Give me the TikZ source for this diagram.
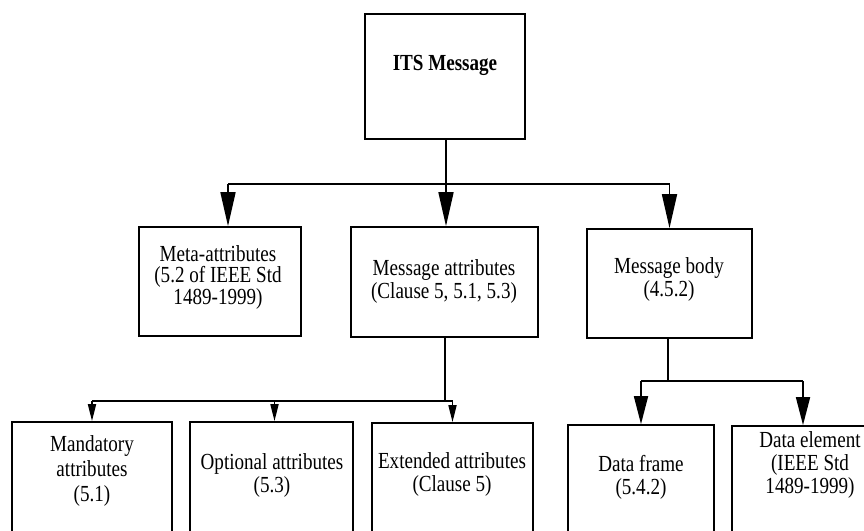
\documentclass[tikz,border=0pt]{standalone}
\usepackage{fontspec}
\setmainfont[FakeStretch=0.83]{Liberation Serif}
\usetikzlibrary{arrows.meta,calc}

\begin{document}
\begin{tikzpicture}[x=1pt,y=-1pt,
    line width=1.7pt,
    box/.style={draw,line width=1.7pt,minimum width=#1,inner sep=0pt},
    lbl/.style={align=center,font=\fontsize{23}{23}\selectfont,inner sep=0pt},
    bigtip/.style={-{Triangle[length=34pt,width=15pt]}},
    midtip/.style={-{Triangle[length=28pt,width=14pt]}},
    smalltip/.style={-{Triangle[length=17pt,width=8pt]}}]
  \useasboundingbox (0,0) rectangle (864,530);
  \clip (0,0) rectangle (864,530);

  % boxes (bottom row continues below the page edge)
  \node[box=160pt,minimum height=125pt] (its)   at (445,76.5) {};
  \node[box=162pt,minimum height=109pt] (meta)  at (220,281.5) {};
  \node[box=187pt,minimum height=110pt] (attr)  at (444.5,282) {};
  \node[box=165pt,minimum height=109pt] (body)  at (669.5,283.5) {};
  \node[box=160pt,minimum height=180pt] (mand)  at (92,512) {};
  \node[box=163pt,minimum height=180pt] (opt)   at (271.5,512) {};
  \node[box=161pt,minimum height=180pt] (ext)   at (452.5,513) {};
  \node[box=146pt,minimum height=180pt] (frame) at (641,515) {};
  \node[box=142pt,minimum height=180pt] (elem)  at (803,516) {};

  % labels
  \node[lbl,font=\fontsize{23}{23}\selectfont\bfseries] (its-t) at (445,65) {ITS Message};
  \node[lbl,font=\fontsize{23}{21.5}\selectfont] (meta-t) at (218,277) {Meta-attributes\\(5.2 of IEEE Std\\1489-1999)};
  \node[lbl] (attr-t)  at (444,281) {Message attributes\\(Clause 5, 5.1, 5.3)};
  \node[lbl] (body-t)  at (669,279) {Message body\\(4.5.2)};
  \node[lbl,font=\fontsize{23}{25}\selectfont] (mand-t) at (92,471) {Mandatory\\attributes\\(5.1)};
  \node[lbl] (opt-t)   at (272,475) {Optional attributes\\(5.3)};
  \node[lbl] (ext-t)   at (452,474) {Extended attributes\\(Clause 5)};
  \node[lbl] (frame-t) at (641,477) {Data frame\\(5.4.2)};
  \node[lbl] (elem-t)  at (810,465) {Data element\\(IEEE Std\\1489-1999)};

  % junction points of the tree
  \coordinate (j1) at (446,184);
  \coordinate (j2) at (445,401);
  \coordinate (j3) at (668,381);

  % ITS Message -> second row
  \draw (its.south -| j1) -- (j1);
  \draw ([xshift=8pt]meta.north |- j1) -- (body.north |- j1);
  \draw[bigtip] ([xshift=8pt]meta.north |- j1) -- ([xshift=8pt]meta.north);
  \draw[bigtip] (j1) -- (attr.north -| j1);
  \draw[bigtip] (body.north |- j1) -- (body.north);

  % Message attributes -> attribute kinds
  \draw (attr.south -| j2) -- (j2);
  \draw (mand.north |- j2) -- (ext.north |- j2);
  \draw[smalltip] (mand.north |- j2) -- (mand.north);
  \draw[smalltip] ([xshift=3pt]opt.north |- j2) -- ([xshift=3pt]opt.north);
  \draw[smalltip] (ext.north |- j2) -- (ext.north);

  % Message body -> data frame / data element
  \draw (body.south -| j3) -- (j3);
  \draw (frame.north |- j3) -- (elem.north |- j3);
  \draw[midtip] (frame.north |- j3) -- (frame.north);
  \draw[midtip] (elem.north |- j3) -- (elem.north);
\end{tikzpicture}
\end{document}
